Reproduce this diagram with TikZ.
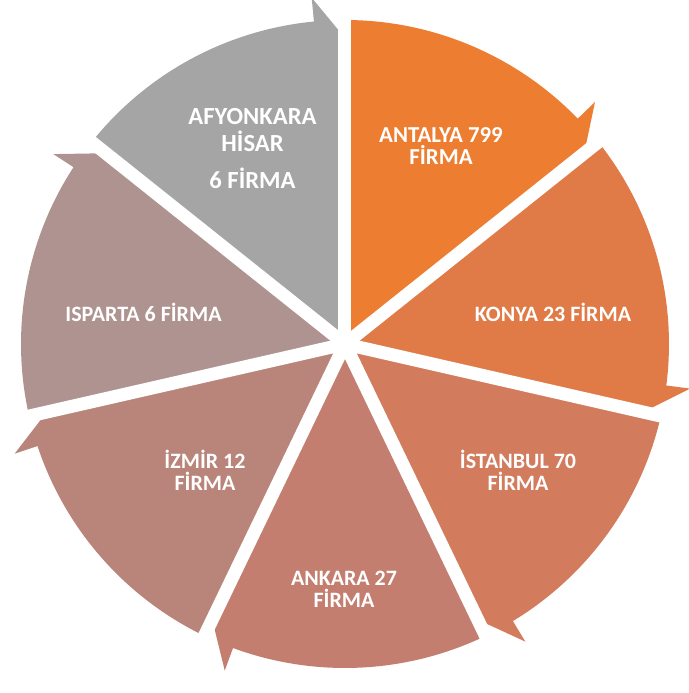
\documentclass[tikz,border=0pt]{standalone}
\usepackage{fontspec}
\setsansfont{Carlito}
\usetikzlibrary{calc}
\definecolor{Accent}{HTML}{ED7D31}
\definecolor{Rust}{HTML}{E07B47}
\definecolor{Clay}{HTML}{D27B5D}
\definecolor{Terra}{HTML}{C47E70}
\definecolor{Rosewood}{HTML}{B98479}
\definecolor{Mauve}{HTML}{AE9391}
\definecolor{Stone}{HTML}{A5A5A5}

% one wedge of the cycle: start angle, end angle, colour
\newcommand{\cyclepiece}[3]{%
  \fill[#3] (0,0) -- (#1:324)
    arc[start angle=#1, end angle=#2+5.5, radius=324]
    -- (#2+5.5:348) -- (#2:306) -- cycle;}

\begin{document}
\begin{tikzpicture}[
  scale=0.02,
  font=\sffamily\bfseries\fontsize{12.5}{12.5}\selectfont,
  gap/.style={
    draw=white,
    line width=7.4pt
  },
  citylabel/.style={
    text=white,
    align=center,
    inner sep=0pt
  }
]

\useasboundingbox (-345,-349) rectangle (344,344);

\cyclepiece{90}{38.571}{Accent}
\cyclepiece{38.571}{-12.857}{Rust}
\cyclepiece{-12.857}{-64.286}{Clay}
\cyclepiece{-64.286}{-115.714}{Terra}
\cyclepiece{-115.714}{-167.143}{Rosewood}
\cyclepiece{-167.143}{-218.571}{Mauve}
\cyclepiece{141.429}{90}{Stone}

\foreach \b in {90,38.571,-12.857,-64.286,-115.714,-167.143,-218.571}
  \draw[gap] (0,0) -- (\b:332);

\node[citylabel, font=\sffamily\bfseries\fontsize{13}{12.5}\selectfont]
  (antalya) at (96,198.25) {ANTALYA 799\\FİRMA};
\node[citylabel] (konya) at (208,31.75) {KONYA 23 FİRMA};
\node[citylabel] (istanbul) at (173,-126) {İSTANBUL 70\\FİRMA};
\node[citylabel] (ankara) at (-1,-245.25) {ANKARA 27\\FİRMA};
\node[citylabel] (izmir) at (-140,-126.75) {İZMİR 12\\FİRMA};
\node[citylabel] (isparta) at (-201.5,31.75) {ISPARTA 6 FİRMA};
\node[citylabel, font=\sffamily\bfseries\fontsize{14}{14}\selectfont]
  (afyon) at (-92.5,195.5) {AFYONKARA\\[1.3pt]HİSAR\\[7pt]6 FİRMA};

\end{tikzpicture}
\end{document}
